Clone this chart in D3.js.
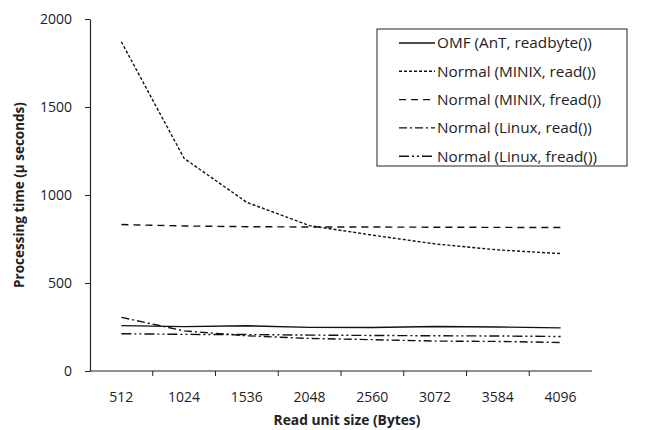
<!DOCTYPE html>
<html>
<head>
<meta charset="utf-8">
<script src="https://cdn.jsdelivr.net/npm/d3@7"></script>
<style>
  body { margin: 0; background: #fff; }
  text { font-family: "Open Sans", Lato, sans-serif; fill: #222; }
</style>
</head>
<body>
<svg id="chart" width="654" height="430"></svg>
<script>
const sizes = ["512", "1024", "1536", "2048", "2560", "3072", "3584", "4096"];
const yTicks = [0, 500, 1000, 1500, 2000];

const omfReadbyte = [258, 252, 257, 248, 247, 253, 250, 245];
const minixRead = [1870, 1208, 958, 826, 772, 722, 688, 667];
const minixFread = [832, 824, 820, 818, 818, 817, 816, 815];
const linuxRead = [305, 228, 200, 185, 178, 170, 168, 162];
const linuxFread = [212, 208, 207, 204, 202, 200, 199, 196];

const seriesNames = [
  "OMF (AnT, readbyte())",
  "Normal (MINIX, read())",
  "Normal (MINIX, fread())",
  "Normal (Linux, read())",
  "Normal (Linux, fread())"
];
const dashes = [null, "3,2", "7,5", "8,3,2,3", "10,3,2,3,2,3"];

const series = [omfReadbyte, minixRead, minixFread, linuxRead, linuxFread].map((vals, i) => ({
  name: seriesNames[i], dash: dashes[i], values: vals
}));

const margin = { top: 19, right: 62, bottom: 59, left: 90 };
const width = 654 - margin.left - margin.right;
const height = 430 - margin.top - margin.bottom;

const svg = d3.select("#chart")
  .append("g")
  .attr("transform", "translate(" + margin.left + "," + margin.top + ")");

const x = d3.scaleBand().domain(sizes).range([0, width]);
const y = d3.scaleLinear().domain([0, 2000]).range([height, 0]);

// y axis
const yAxis = svg.append("g")
  .call(d3.axisLeft(y).tickValues(yTicks).tickFormat(d3.format("d"))
    .tickSize(5).tickSizeOuter(0).tickPadding(13));
yAxis.select(".domain").attr("stroke", "#222").attr("stroke-width", 1.2);
yAxis.selectAll(".tick line").attr("stroke", "#222");
yAxis.selectAll(".tick text").style("font-size", "14px").attr("fill", "#222");

// x axis, ticks between categories
const xAxis = svg.append("g").attr("transform", "translate(0," + height + ")");
xAxis.append("line")
  .attr("x1", 0).attr("x2", width)
  .attr("stroke", "#222").attr("stroke-width", 1.2);
xAxis.selectAll(".xtick")
  .data(sizes.slice(1))
  .enter().append("line")
  .attr("x1", d => x(d)).attr("x2", d => x(d))
  .attr("y1", 0).attr("y2", 5)
  .attr("stroke", "#222");
xAxis.selectAll(".xlabel")
  .data(sizes)
  .enter().append("text")
  .attr("x", d => x(d) + x.bandwidth() / 2)
  .attr("y", 31)
  .attr("text-anchor", "middle")
  .style("font-size", "14px")
  .text(d => d);

// axis titles
svg.append("text")
  .attr("x", width / 2 + 6)
  .attr("y", height + 54)
  .attr("text-anchor", "middle")
  .style("font-size", "13.8px")
  .style("font-weight", "bold")
  .text("Read unit size (Bytes)");

svg.append("text")
  .attr("transform", "translate(-66," + (height / 2) + ") rotate(-90)")
  .attr("text-anchor", "middle")
  .style("font-size", "13.5px")
  .style("font-weight", "bold")
  .text("Processing time (µ seconds)");

// lines
const line = d3.line()
  .x((d, i) => x(sizes[i]) + x.bandwidth() / 2)
  .y(d => y(d));

svg.selectAll(".series")
  .data(series)
  .enter().append("path")
  .attr("class", "series")
  .attr("d", d => line(d.values))
  .attr("fill", "none")
  .attr("stroke", "#111")
  .attr("stroke-width", 1.4)
  .attr("stroke-dasharray", d => d.dash);

// legend
const legend = svg.append("g").attr("transform", "translate(287,10)");
legend.append("rect")
  .attr("width", 250).attr("height", 137)
  .attr("fill", "#fff").attr("stroke", "#222").attr("stroke-width", 1);

const items = legend.selectAll(".legend-item")
  .data(series)
  .enter().append("g")
  .attr("class", "legend-item")
  .attr("transform", (d, i) => "translate(0," + (14 + i * 28.3) + ")");
items.append("line")
  .attr("x1", 22).attr("x2", 58)
  .attr("stroke", "#111").attr("stroke-width", 1.4)
  .attr("stroke-dasharray", d => d.dash);
items.append("text")
  .attr("x", 60).attr("dy", "0.35em")
  .style("font-size", "15.3px")
  .text(d => d.name);
</script>
</body>
</html>
